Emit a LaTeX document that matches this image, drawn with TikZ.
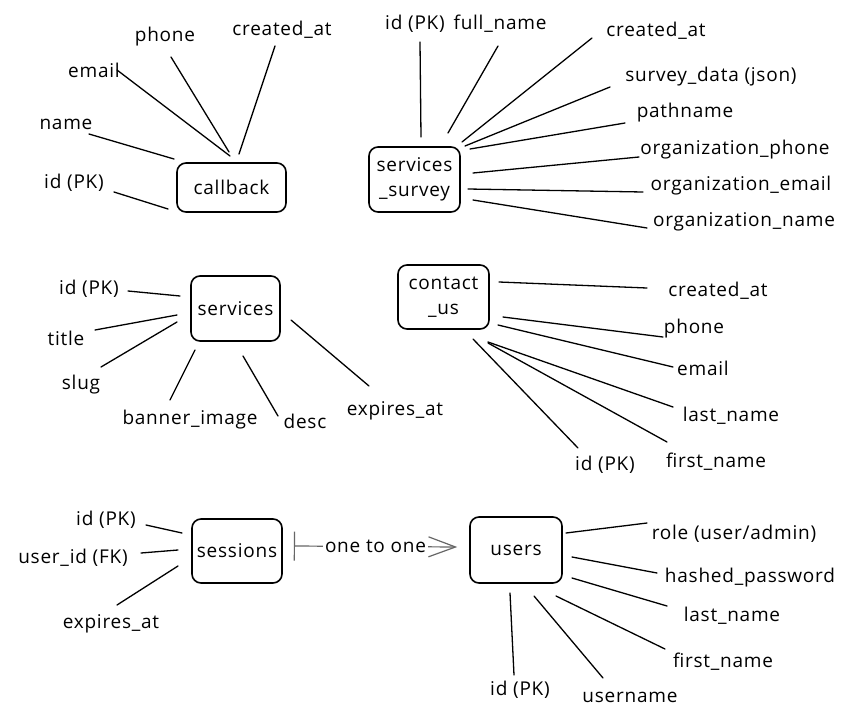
\documentclass[tikz,border=0pt]{standalone}
\usepackage{fontspec}
\setmainfont{Open Sans}[LetterSpace=4]
\usetikzlibrary{arrows.meta}
\definecolor{relgray}{HTML}{666666}
\begin{document}
\begin{tikzpicture}[x=1pt,y=-1pt,
  entity/.style={draw, line width=1.6pt, rounded corners=9pt, align=center,
    inner sep=0pt, font=\fontsize{19}{25}\selectfont},
  field/.style={font=\fontsize{19}{22}\selectfont, inner sep=0pt},
  attr/.style={line width=1.3pt, line cap=round},
  rel/.style={line width=1.2pt, draw=relgray, line cap=round}]
\useasboundingbox[fill=white] (0,0) rectangle (846,720);

% ---------- entities ----------
\node[entity, minimum width=109pt, minimum height=49pt] (callback) at (231.5,187.5) {callback};
\node[entity, minimum width=91pt, minimum height=65pt] (survey) at (414.5,179.5) {services\\\_survey};
\node[entity, minimum width=89pt, minimum height=65pt] (services) at (235.5,308.5) {services};
\node[entity, minimum width=91pt, minimum height=64pt] (contact) at (443.5,297) {contact\\\_us};
\node[entity, minimum width=90pt, minimum height=64pt] (sessions) at (237,551) {sessions};
\node[entity, minimum width=92pt, minimum height=66pt] (users) at (516,550) {users};

% ---------- callback ----------
\node[field] (cb-id) at (74,183) {id (PK)};
\node[field] (cb-name) at (66,124) {name};
\node[field] (cb-email) at (94,70) {email};
\node[field] (cb-phone) at (165,37) {phone};
\node[field] (cb-created) at (282,30) {created\_at};
\draw[attr] (114,192) coordinate (cb-id-a) -- (168,209) coordinate (cb-id-b);
\draw[attr] (89,134) coordinate (cb-name-a) -- (174,159) coordinate (cb-name-b);
\draw[attr] (117,70) coordinate (cb-email-a) -- (230,156) coordinate (cb-email-b);
\draw[attr] (171,57) coordinate (cb-phone-a) -- (229,152) coordinate (cb-phone-b);
\draw[attr] (275,46) coordinate (cb-created-a) -- (239,154) coordinate (cb-created-b);

% ---------- services_survey ----------
\node[field] (sv-id) at (415,24) {id (PK)};
\node[field] (sv-full) at (500,24) {full\_name};
\node[field] (sv-created) at (656,31) {created\_at};
\node[field] (sv-data) at (711,77) {survey\_data (json)};
\node[field] (sv-path) at (685,113) {pathname};
\node[field] (sv-ophone) at (735,150) {organization\_phone};
\node[field] (sv-oemail) at (741,186) {organization\_email};
\node[field] (sv-oname) at (744,222) {organization\_name};
\draw[attr] (420,42) coordinate (sv-id-a) -- (421,137) coordinate (sv-id-b);
\draw[attr] (498,46) coordinate (sv-full-a) -- (448,133) coordinate (sv-full-b);
\draw[attr] (592,38) coordinate (sv-created-a) -- (462,142) coordinate (sv-created-b);
\draw[attr] (610,87) coordinate (sv-data-a) -- (465,146) coordinate (sv-data-b);
\draw[attr] (625,123) coordinate (sv-path-a) -- (470,149) coordinate (sv-path-b);
\draw[attr] (639,157) coordinate (sv-ophone-a) -- (473,173) coordinate (sv-ophone-b);
\draw[attr] (643,192) coordinate (sv-oemail-a) -- (468,189) coordinate (sv-oemail-b);
\draw[attr] (647,228) coordinate (sv-oname-a) -- (473,200) coordinate (sv-oname-b);

% ---------- services ----------
\node[field] (se-id) at (89,289) {id (PK)};
\node[field] (se-title) at (66,338) {title};
\node[field] (se-slug) at (81,385) {slug};
\node[field] (se-banner) at (190,420) {banner\_image};
\node[field] (se-desc) at (305,421) {desc};
\node[field] (se-expires) at (395,411) {expires\_at};
\draw[attr] (128,291) coordinate (se-id-a) -- (180,296) coordinate (se-id-b);
\draw[attr] (95,330) coordinate (se-title-a) -- (177,315) coordinate (se-title-b);
\draw[attr] (101,367) coordinate (se-slug-a) -- (177,322) coordinate (se-slug-b);
\draw[attr] (170,400) coordinate (se-banner-a) -- (195,350) coordinate (se-banner-b);
\draw[attr] (278,416) coordinate (se-desc-a) -- (243,356) coordinate (se-desc-b);
\draw[attr] (369,386) coordinate (se-expires-a) -- (291,320) coordinate (se-expires-b);

% ---------- contact_us ----------
\node[field] (cu-created) at (718,291) {created\_at};
\node[field] (cu-phone) at (694,329) {phone};
\node[field] (cu-email) at (703,368) {email};
\node[field] (cu-last) at (731,416) {last\_name};
\node[field] (cu-first) at (716,462) {first\_name};
\node[field] (cu-id) at (605,465) {id (PK)};
\draw[attr] (499,282) coordinate (cu-created-a) -- (647,288) coordinate (cu-created-b);
\draw[attr] (503,317) coordinate (cu-phone-a) -- (663,337) coordinate (cu-phone-b);
\draw[attr] (498,325) coordinate (cu-email-a) -- (673,367) coordinate (cu-email-b);
\draw[attr] (488,342) coordinate (cu-last-a) -- (673,407) coordinate (cu-last-b);
\draw[attr] (488,343) coordinate (cu-first-a) -- (667,442) coordinate (cu-first-b);
\draw[attr] (473,339) coordinate (cu-id-a) -- (578,448) coordinate (cu-id-b);

% ---------- sessions ----------
\node[field] (ss-id) at (106,520) {id (PK)};
\node[field] (ss-user) at (73,558) {user\_id (FK)};
\node[field] (ss-expires) at (111,624) {expires\_at};
\draw[attr] (146,525) coordinate (ss-id-a) -- (182,533) coordinate (ss-id-b);
\draw[attr] (141,553) coordinate (ss-user-a) -- (178,550) coordinate (ss-user-b);
\draw[attr] (117,605) coordinate (ss-expires-a) -- (178,566) coordinate (ss-expires-b);

% ---------- users ----------
\node[field] (us-role) at (734,534) {role (user/admin)};
\node[field] (us-hash) at (750,578) {hashed\_password};
\node[field] (us-last) at (732,616) {last\_name};
\node[field] (us-first) at (723,662) {first\_name};
\node[field] (us-id) at (520,690) {id (PK)};
\node[field] (us-user) at (630,697) {username};
\draw[attr] (566,533) coordinate (us-role-a) -- (647,523) coordinate (us-role-b);
\draw[attr] (572,557) coordinate (us-hash-a) -- (657,573) coordinate (us-hash-b);
\draw[attr] (572,578) coordinate (us-last-a) -- (667,606) coordinate (us-last-b);
\draw[attr] (556,596) coordinate (us-first-a) -- (665,649) coordinate (us-first-b);
\draw[attr] (510,593) coordinate (us-id-a) -- (514,675) coordinate (us-id-b);
\draw[attr] (534,596) coordinate (us-user-a) -- (603,678) coordinate (us-user-b);

% ---------- relation ----------
\coordinate (rel-start) at ([xshift=11pt,yshift=5pt]sessions.east);
\coordinate (rel-end) at ([xshift=-12pt,yshift=3pt]users.west);
\draw[rel, {Bar[width=29pt]}-{Straight Barb[length=27pt,width=20pt]}]
  (rel-start) -- node[fill=white, inner sep=2pt, text=black,
  font=\fontsize{19}{22}\selectfont] (rel-label) {one to one} (rel-end);
\end{tikzpicture}
\end{document}
